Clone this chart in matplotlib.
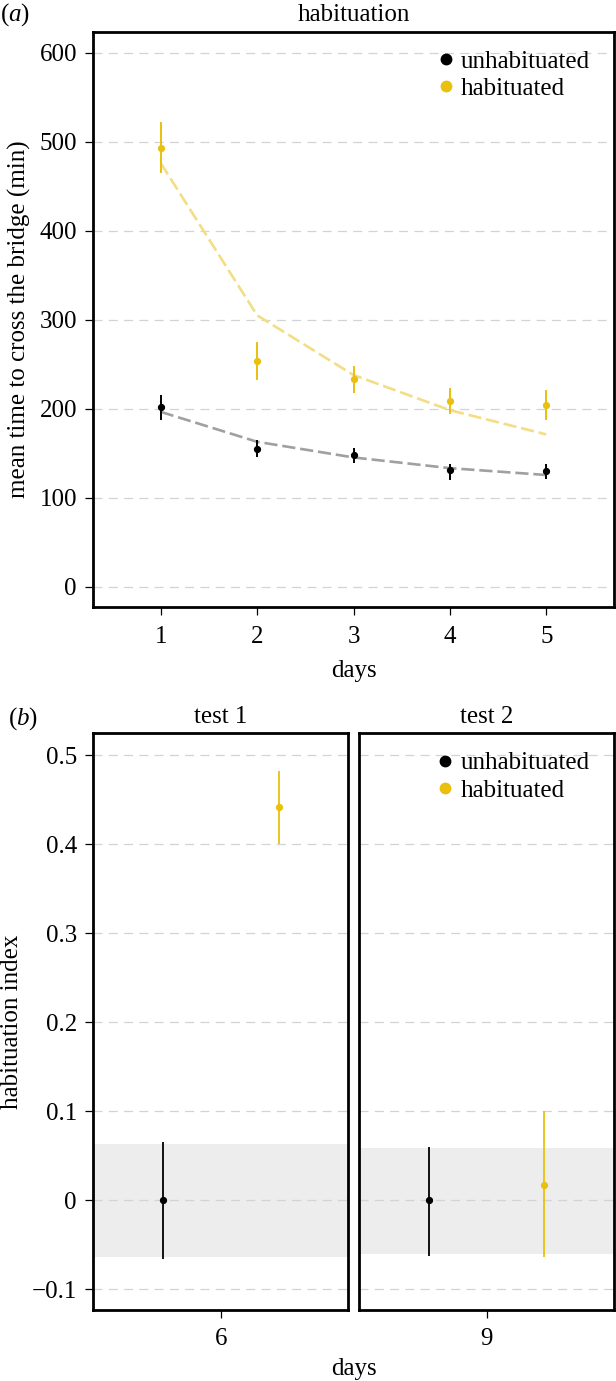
import matplotlib
matplotlib.use("Agg")
import matplotlib.pyplot as plt
from matplotlib.lines import Line2D
import numpy as np

# panel (a): habituation days
days = [1, 2, 3, 4, 5]
unhab_mean = [201.6, 155.0, 148.4, 131.0, 130.7]
unhab_lo = [187.3, 146.0, 139.0, 120.5, 121.0]
unhab_hi = [215.4, 164.8, 156.0, 137.5, 138.0]
unhab_fit = [196.6, 163.0, 145.4, 133.4, 125.7]
hab_mean = [493.5, 253.6, 233.0, 208.7, 204.0]
hab_lo = [465.0, 232.3, 218.0, 194.0, 187.0]
hab_hi = [522.0, 275.6, 248.0, 223.0, 221.0]
hab_fit = [476.0, 305.0, 238.0, 198.5, 171.3]
yticks_a = [0, 100, 200, 300, 400, 500, 600]

# panel (b): test days
tests = ["test 1", "test 2"]
test_days = [6, 9]
unhab_idx = [0.0, 0.0]
unhab_idx_lo = [-0.0663, -0.063]
unhab_idx_hi = [0.0655, 0.060]
hab_idx = [0.4416, 0.0173]
hab_idx_lo = [0.400, -0.0645]
hab_idx_hi = [0.4824, 0.0995]
band_lo = [-0.0637, -0.0607]
band_hi = [0.063, 0.058]
yticks_b = [-0.1, 0, 0.1, 0.2, 0.3, 0.4, 0.5]
yticklabels_b = ["\u22120.1", "0", "0.1", "0.2", "0.3", "0.4", "0.5"]

BLACK = "black"
YELLOW = "#E9C00E"
YELLOW_FIT = "#F3DD85"
GREY_FIT = "#A0A0A0"
GRID = "#D3D3D3"
FS = 18

plt.rcParams["font.family"] = ["Liberation Serif", "TeX Gyre Termes", "DejaVu Serif"]
plt.rcParams["mathtext.fontset"] = "custom"
plt.rcParams["mathtext.it"] = "Liberation Serif:italic"
plt.rcParams["mathtext.rm"] = "Liberation Serif"
plt.rcParams["font.size"] = FS
plt.rcParams["lines.scale_dashes"] = False

fig = plt.figure(figsize=(6.16, 13.81), dpi=100)


def style_axes(ax):
    for s in ax.spines.values():
        s.set_linewidth(2.0)
        s.set_color("black")
    ax.tick_params(axis="both", direction="out", length=5.8, width=0.9,
                   labelsize=FS)
    ax.tick_params(axis="x", pad=7.5)
    ax.tick_params(axis="y", pad=6.0)
    ax.set_axisbelow(True)
    ax.yaxis.grid(True, color=GRID, linewidth=0.9, linestyle=(0, (6.5, 4.5)), zorder=0.5)
    ax.xaxis.grid(False)


def add_legend(ax, x_anchor):
    handles = [
        Line2D([], [], linestyle="none", marker="o", markersize=7.5, color=BLACK),
        Line2D([], [], linestyle="none", marker="o", markersize=7.5, color=YELLOW),
    ]
    ax.legend(handles, ["unhabituated", "habituated"], loc="upper left",
              bbox_to_anchor=(x_anchor, 0.968), frameon=False, fontsize=FS,
              handlelength=0.6, handletextpad=0.3, labelspacing=0.2,
              borderpad=0, borderaxespad=0)


# ---- panel (a)
ax_a = fig.add_axes([0.1515, 0.5602, 0.8448, 0.4168])
style_axes(ax_a)
ax_a.plot(days, unhab_fit, color=GREY_FIT, linewidth=1.9,
          linestyle=(0, (9.5, 3.5)), zorder=2)
ax_a.plot(days, hab_fit, color=YELLOW_FIT, linewidth=1.9,
          linestyle=(0, (9.5, 3.5)), zorder=2)
for mean, lo, hi, col in [(unhab_mean, unhab_lo, unhab_hi, BLACK),
                          (hab_mean, hab_lo, hab_hi, YELLOW)]:
    mean = np.array(mean)
    yerr = [mean - np.array(lo), np.array(hi) - mean]
    ax_a.errorbar(days, mean, yerr=yerr, fmt="o", color=col, markersize=4.2,
                  elinewidth=1.4, capsize=0, zorder=3)
ax_a.set_xlim(0.3, 5.7)
ax_a.set_ylim(-23, 623.6)
ax_a.set_xticks(days)
ax_a.set_yticks(yticks_a)
ax_a.set_xlabel("days", labelpad=9)
ax_a.set_ylabel("mean time to cross the bridge (min)", labelpad=6)
ax_a.set_title("habituation", fontsize=FS, pad=7.5)
add_legend(ax_a, 0.663)
fig.text(0.0, 1 - 20.7 / 1381, r"($\mathit{a}$)", fontsize=FS, va="baseline", ha="left")

# ---- panel (b)
ax_b1 = fig.add_axes([0.1515, 0.0514, 0.4140, 0.4176])
ax_b2 = fig.add_axes([0.5833, 0.0514, 0.4130, 0.4176], sharey=ax_b1)
dodge = 0.25
for i, ax in enumerate([ax_b1, ax_b2]):
    style_axes(ax)
    c = test_days[i]
    ax.axhspan(band_lo[i], band_hi[i], color="#EDEDED", linewidth=0, zorder=0.2)
    ax.errorbar([c - dodge], [unhab_idx[i]],
                yerr=[[unhab_idx[i] - unhab_idx_lo[i]], [unhab_idx_hi[i] - unhab_idx[i]]],
                fmt="o", color=BLACK, markersize=4.2, elinewidth=1.3, capsize=0, zorder=3)
    ax.errorbar([c + dodge], [hab_idx[i]],
                yerr=[[hab_idx[i] - hab_idx_lo[i]], [hab_idx_hi[i] - hab_idx[i]]],
                fmt="o", color=YELLOW, markersize=4.2, elinewidth=1.3, capsize=0, zorder=3)
    ax.set_xlim(c - 0.55, c + 0.55)
    ax.set_xticks([c])
    ax.set_title(tests[i], fontsize=FS, pad=7.5)

ax_b1.set_ylim(-0.1236, 0.5244)
ax_b1.set_yticks(yticks_b)
ax_b1.set_yticklabels(yticklabels_b)
ax_b2.tick_params(axis="y", left=False, labelleft=False)
ax_b1.set_ylabel("habituation index", labelpad=6)
add_legend(ax_b2, 0.3086)
fig.text((93.3 + 613.7) / 2 / 616, 1 - 1375 / 1381, "days", fontsize=FS,
         ha="center", va="baseline")
fig.text(8.3 / 616, 1 - 725 / 1381, r"($\mathit{b}$)", fontsize=FS, va="baseline", ha="left")

fig.savefig("out.png", dpi=100)
